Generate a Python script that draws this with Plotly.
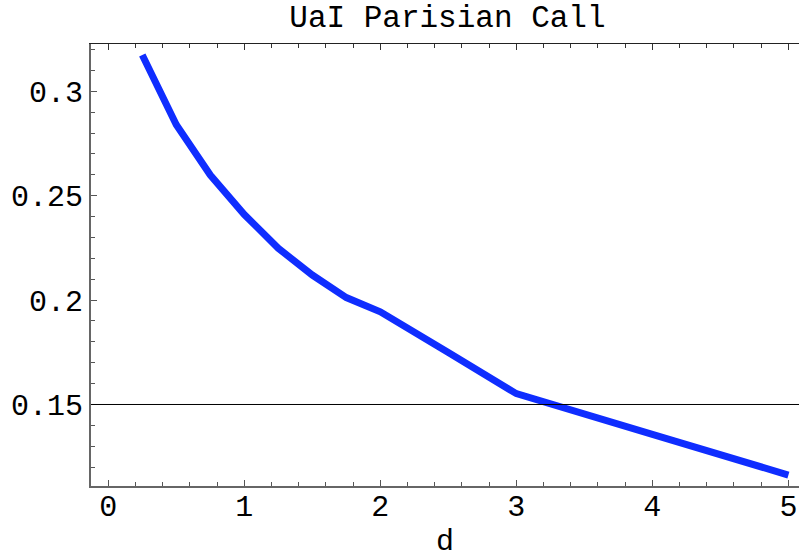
import plotly.graph_objects as go

# UaI Parisian call price against d
d_values = [0.25, 0.5, 0.75, 1.0, 1.25, 1.5, 1.75, 2.0, 2.5, 3.0, 4.0, 5.0]
call_price = [0.3174, 0.2840, 0.2599, 0.2410, 0.2248, 0.2120, 0.2012, 0.1944,
              0.1749, 0.1552, 0.1357, 0.1162]
reference_level = 0.15

x_range = [-0.127, 5.078]
y_range = [0.11096, 0.32266]

mono = "Liberation Mono, Courier New, monospace"

fig = go.Figure()

fig.add_trace(go.Scatter(
    x=d_values,
    y=call_price,
    mode='lines',
    line=dict(color='rgb(15,45,255)', width=7),
    showlegend=False
))

# thin horizontal reference line
fig.add_hline(y=reference_level, line=dict(color='black', width=1))

# invisible trace on top axis so the frame's top edge shows ticks
fig.add_trace(go.Scatter(x=x_range, y=y_range, xaxis='x2', mode='none',
                         showlegend=False, hoverinfo='skip'))

fig.update_layout(
    width=799,
    height=559,
    margin=dict(l=91, r=0, t=44, b=73),
    plot_bgcolor='white',
    paper_bgcolor='white',
    font=dict(family=mono, size=30, color='black'),
    title=dict(
        text='UaI Parisian Call',
        x=0.56,
        xanchor='center',
        y=0.971,
        yanchor='middle',
        font=dict(family=mono, size=31, color='black')
    ),
    xaxis=dict(
        range=x_range,
        dtick=1,
        tick0=0,
        ticks='inside',
        ticklen=6,
        tickcolor='#555',
        showline=True,
        linecolor='#666',
        linewidth=2,
        showgrid=False,
        zeroline=False,
        automargin=False,
        ticklabelstandoff=-8,
        title=dict(text='d', standoff=9, font=dict(family=mono, size=30)),
        minor=dict(dtick=0.2, tick0=0, ticks='inside', ticklen=4, tickcolor='#555'),
    ),
    xaxis2=dict(
        range=x_range,
        overlaying='x',
        side='top',
        dtick=1,
        tick0=0,
        ticks='inside',
        ticklen=6,
        tickcolor='#333',
        showline=True,
        linecolor='#222',
        linewidth=1,
        showticklabels=False,
        showgrid=False,
        zeroline=False,
        automargin=False,
        minor=dict(dtick=0.2, tick0=0, ticks='inside', ticklen=4, tickcolor='#333'),
    ),
    yaxis=dict(
        range=y_range,
        tickvals=[0.15, 0.2, 0.25, 0.3],
        ticktext=['0.15', '0.2', '0.25', '0.3'],
        ticks='inside',
        ticklen=6,
        tickcolor='#555',
        showline=True,
        linecolor='#666',
        linewidth=2,
        showgrid=False,
        zeroline=False,
        automargin=False,
        minor=dict(dtick=0.01, tick0=0, ticks='inside', ticklen=4, tickcolor='#555'),
    ),
)

# drop the page's default body margin so the figure fills the window
fig.write_html("out.html", config={'displayModeBar': False},
               post_script="document.body.style.margin='0';")
